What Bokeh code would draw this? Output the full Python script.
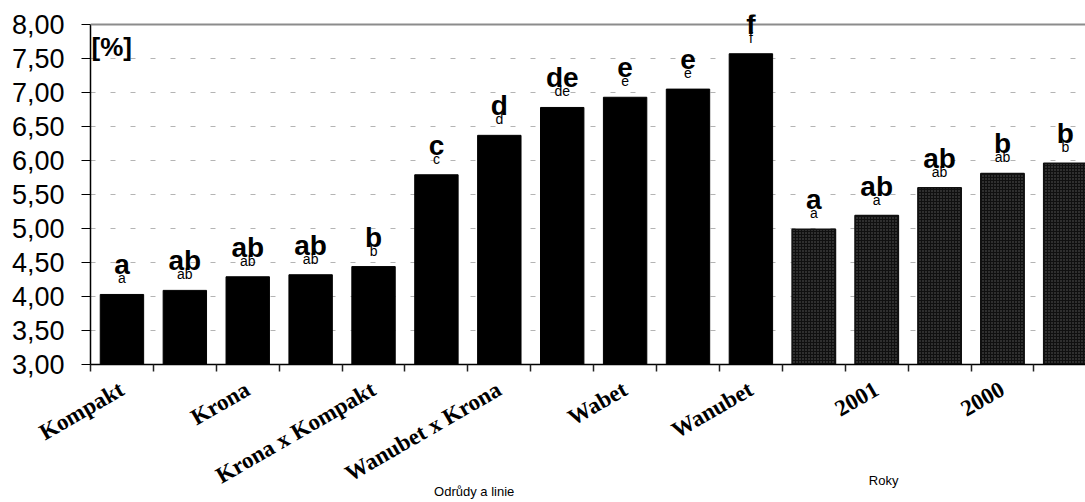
import math
from bokeh.plotting import figure
from bokeh.models import (ColumnDataSource, Range1d, LinearAxis, FixedTicker,
                          Label, LabelSet, Span)
from bokeh.core.properties import value
from bokeh.embed import file_html
from bokeh.resources import INLINE

# ---- data ----
categories = ["Kompakt", "", "Krona", "", "Krona x Kompakt", "", "Wanubet x Krona", "",
              "Wabet", "", "Wanubet", "", "2001", "", "2000", ""]
values = [4.03, 4.09, 4.29, 4.32, 4.44, 5.79, 6.37, 6.78, 6.93, 7.05, 7.57,
          4.99, 5.19, 5.60, 5.81, 5.96]
groups = ["variety"] * 11 + ["year"] * 5
big_letters = ["a", "ab", "ab", "ab", "b", "c", "d", "de", "e", "e", "f",
               "a", "ab", "ab", "b", "b"]
small_letters = ["a", "ab", "ab", "ab", "b", "c", "d", "de", "e", "e", "f",
                 "a", "a", "ab", "ab", "b"]
y_ticks = [3.0, 3.5, 4.0, 4.5, 5.0, 5.5, 6.0, 6.5, 7.0, 7.5, 8.0]
y_tick_labels = ["3,00", "3,50", "4,00", "4,50", "5,00", "5,50", "6,00",
                 "6,50", "7,00", "7,50", "8,00"]
group_titles = ["Odrůdy a linie", "Roky"]
group_title_x = [6.1, 12.61]
unit_label = "[%]"

x = [i + 0.5 for i in range(len(values))]
var_idx = [i for i, g in enumerate(groups) if g == "variety"]
yr_idx = [i for i, g in enumerate(groups) if g == "year"]
src_var = ColumnDataSource(dict(x=[x[i] for i in var_idx], top=[values[i] for i in var_idx]))
src_yr = ColumnDataSource(dict(x=[x[i] for i in yr_idx], top=[values[i] for i in yr_idx]))
src_txt = ColumnDataSource(dict(x=x, y=values, big=big_letters, small=small_letters))

y_min, y_max = y_ticks[0], y_ticks[-1]
p = figure(width=1085, height=502, output_backend="svg", toolbar_location=None,
           x_range=Range1d(0, 15.82), y_range=Range1d(y_min, 8.147),
           min_border_left=90, min_border_right=0, min_border_top=14,
           min_border_bottom=137)
p.outline_line_color = None
p.background_fill_color = "white"
p.border_fill_color = "white"

# grid
p.xgrid.visible = False
p.ygrid.ticker = FixedTicker(ticks=y_ticks)
p.ygrid.grid_line_color = "#b4b4b4"
p.ygrid.grid_line_dash = "5 15"
p.ygrid.grid_line_width = 1

# top border of the plot area (at the axis maximum)
p.add_layout(Span(location=y_max, dimension="width", line_color="#8c8c8c",
                  line_width=2))

# bars
p.vbar(x="x", top="top", bottom=y_min, width=0.69, source=src_var,
       fill_color="black", line_color="black", line_width=1)
p.vbar(x="x", top="top", bottom=y_min, width=0.69, source=src_yr,
       fill_color="#101010", line_color="#111111", line_width=1.5,
       hatch_pattern="dot", hatch_color="#5c5c5c", hatch_scale=3, hatch_weight=1)

# significance letters
p.add_layout(LabelSet(x="x", y="y", text="big", source=src_txt, y_offset=20,
                      text_align="center", text_baseline="alphabetic",
                      text_font=value("Liberation Sans"), text_font_style="bold",
                      text_font_size="28px", text_color="black"))
p.add_layout(LabelSet(x="x", y="y", text="small", source=src_txt, y_offset=11,
                      text_align="center", text_baseline="alphabetic",
                      text_font=value("Liberation Sans"), text_font_size="14px",
                      text_color="black"))

# y axis
ya = p.yaxis[0]
ya.bounds = (y_min, y_max)
ya.ticker = FixedTicker(ticks=y_ticks)
ya.major_label_overrides = {t: s for t, s in zip(y_ticks, y_tick_labels)}
ya.major_label_text_font = "Liberation Sans"
ya.major_label_text_font_size = "27px"
ya.major_label_text_color = "black"
ya.major_label_standoff = 17
ya.major_tick_out = 9
ya.major_tick_in = 0
ya.minor_tick_line_color = None
ya.axis_line_color = "black"
ya.axis_line_width = 1.5
ya.major_tick_line_color = "black"

# x axis: labels at (every other) category centre, minor ticks at boundaries
lab_ticks = [x[i] for i, c in enumerate(categories) if c]
xa = p.xaxis[0]
xa.ticker = FixedTicker(ticks=lab_ticks, minor_ticks=list(range(len(values) + 1)))
xa.major_label_overrides = {x[i]: c for i, c in enumerate(categories) if c}
xa.major_label_orientation = math.pi / 6
xa.major_label_text_font = "Liberation Serif"
xa.major_label_text_font_style = "bold"
xa.major_label_text_font_size = "23px"
xa.major_label_text_color = "black"
xa.major_label_standoff = 16
xa.major_tick_line_color = None
xa.major_tick_out = 0
xa.major_tick_in = 0
xa.minor_tick_out = 7
xa.minor_tick_in = 0
xa.minor_tick_line_color = "#222222"
xa.minor_tick_line_width = 1.5
xa.axis_line_color = "black"
xa.axis_line_width = 1.5

# group titles below the category labels (one axis each, drawn over the label band)
for gx, title, standoff in zip(group_title_x, group_titles, [-19, -30]):
    ga = LinearAxis(ticker=FixedTicker(ticks=[gx]),
                    major_label_overrides={gx: title},
                    major_label_text_font="Liberation Sans",
                    major_label_text_font_size="13px",
                    major_label_text_color="black",
                    major_label_standoff=standoff, major_tick_out=0, major_tick_in=0,
                    axis_line_color=None, major_tick_line_color=None,
                    minor_tick_line_color=None)
    p.add_layout(ga, "below")

# unit label (screen units, relative to the plot frame)
p.add_layout(Label(x=1, y=333, x_units="screen", y_units="screen", text=unit_label,
                   text_align="left", text_baseline="top", text_font="Liberation Sans",
                   text_font_style="bold", text_font_size="26px", text_color="black"))

open("out.html", "w").write(file_html(p, INLINE))
